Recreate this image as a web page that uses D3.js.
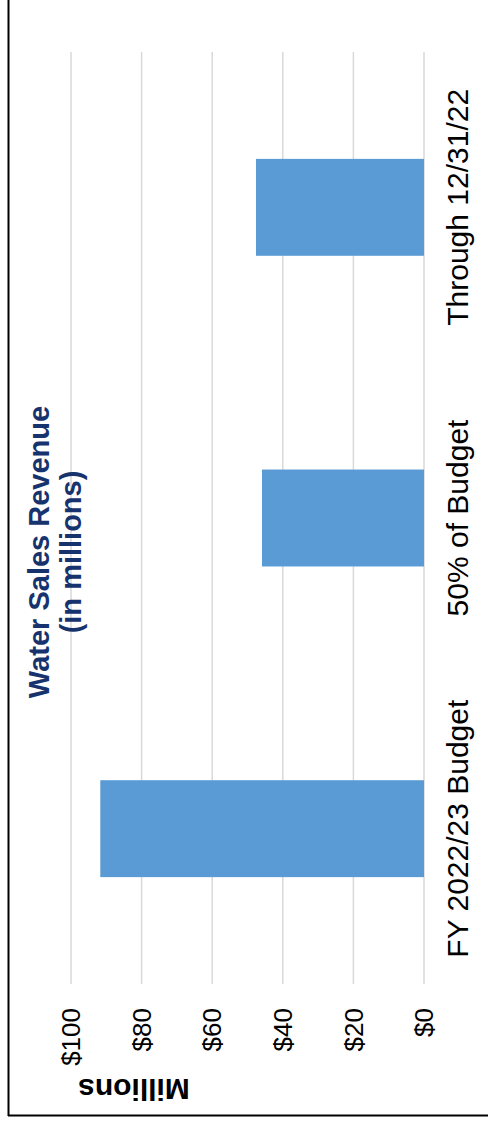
<!DOCTYPE html>
<html>
<head>
<meta charset="utf-8">
<script src="https://cdn.jsdelivr.net/npm/d3@7"></script>
<style>
  html, body { margin: 0; padding: 0; background: #fff; }
  svg { display: block; }
  text { font-family: "Liberation Sans", Arial, sans-serif; }
</style>
</head>
<body>
<script>
// Data
const categories = ["FY 2022/23 Budget", "50% of Budget", "Through 12/31/22"];
const values = [91.7, 45.9, 47.6];
const tickValues = [0, 20, 40, 60, 80, 100];
const tickLabels = ["$0", "$20", "$40", "$60", "$80", "$100"];
const titleLines = ["Water Sales Revenue", "(in millions)"];
const unitLabel = "Millions";

const W = 488, H = 1125;
const svg = d3.select("body").append("svg").attr("width", W).attr("height", H);

// Chart is drawn rotated 90° counter-clockwise: value axis horizontal, categories vertical
const x = d3.scaleLinear().domain([0, 100]).range([424, 71]);
const y = d3.scaleBand().domain(categories).range([984, 52]).paddingInner(0.688).paddingOuter(0.344);

// Frame
svg.append("line").attr("x1", 8.5).attr("x2", 8.5).attr("y1", 0).attr("y2", 1116)
  .attr("stroke", "#000").attr("stroke-width", 2);
svg.append("line").attr("x1", 8).attr("x2", W).attr("y1", 1115.5).attr("y2", 1115.5)
  .attr("stroke", "#000").attr("stroke-width", 2);

// Gridlines
svg.append("g").selectAll("line").data(tickValues).join("line")
  .attr("x1", d => x(d)).attr("x2", d => x(d))
  .attr("y1", 52).attr("y2", 984)
  .attr("stroke", "#d9d9d9").attr("stroke-width", 1.5);

// Bars
svg.append("g").selectAll("rect").data(categories).join("rect")
  .attr("x", (d, i) => x(values[i]))
  .attr("width", (d, i) => x(0) - x(values[i]))
  .attr("y", d => y(d))
  .attr("height", y.bandwidth())
  .attr("fill", "#5b9bd5");

// Tick labels (rotated -90, right-aligned towards plot)
svg.append("g").selectAll("text").data(tickValues).join("text")
  .attr("transform", d => `translate(${x(d)},1008) rotate(-90)`)
  .attr("text-anchor", "end")
  .attr("dy", "0.35em")
  .attr("font-size", 26)
  .attr("fill", "#000")
  .text((d, i) => tickLabels[i]);

// Category labels
svg.append("g").selectAll("text").data(categories).join("text")
  .attr("transform", d => `translate(468,${y(d) + y.bandwidth() / 2}) rotate(-90)`)
  .attr("text-anchor", "middle")
  .attr("font-size", 30)
  .attr("fill", "#000")
  .text(d => d);

// Title
const titleBase = [49, 81];
svg.append("g").selectAll("text").data(titleLines).join("text")
  .attr("transform", (d, i) => `translate(${titleBase[i]},552) rotate(-90)`)
  .attr("text-anchor", "middle")
  .attr("font-size", 29)
  .attr("font-weight", "bold")
  .attr("fill", "#17336e")
  .text(d => d);

// Units label (upside down)
svg.append("text")
  .attr("transform", "translate(134,1079) rotate(180)")
  .attr("text-anchor", "middle")
  .attr("font-size", 30)
  .attr("font-weight", "bold")
  .attr("fill", "#000")
  .text(unitLabel);
</script>
</body>
</html>
